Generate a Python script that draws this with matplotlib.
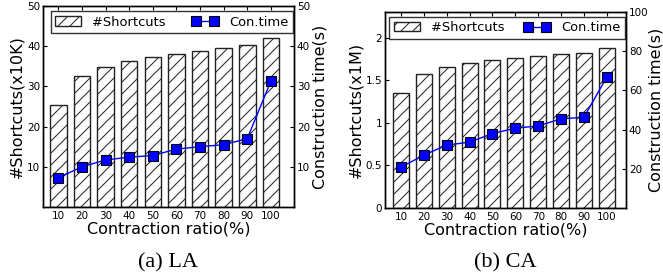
import matplotlib
matplotlib.use("Agg")
import matplotlib.pyplot as plt
import numpy as np

ratios = ["10", "20", "30", "40", "50", "60", "70", "80", "90", "100"]

la_shortcuts = [25.3, 32.5, 34.9, 36.4, 37.3, 38.1, 38.8, 39.5, 40.2, 42.1]
la_time = [7.3, 10.0, 11.7, 12.4, 12.8, 14.4, 15.0, 15.5, 17.0, 31.3]

ca_shortcuts = [1.355, 1.573, 1.654, 1.70, 1.732, 1.76, 1.783, 1.806, 1.817, 1.872]
ca_time = [20.8, 27.0, 32.1, 33.6, 38.0, 40.7, 41.9, 45.5, 46.3, 66.8]

W, H = 663, 279
DPI = 72
S = 100 / DPI  # scale so that sizes match a 100-dpi design
fig = plt.figure(figsize=(W / DPI, H / DPI), dpi=DPI)

TICK_FS = 7.5 * S
LABEL_FS = 11.5 * S
LEG_FS = 9.4 * S


def panel(rect, bars, line, ylim_l, yticks_l, yticklabels_l, ylim_r, yticks_r,
          ylabel_l, xlim, caption, cap_y, rlabelpad, colsp):
    ax = fig.add_axes(rect)
    x = np.arange(len(ratios))
    b = ax.bar(x, bars, width=0.7, color="white", edgecolor="#222222",
               hatch="//", linewidth=1.0 * S, label="#Shortcuts", zorder=2)
    ax.set_xlim(*xlim)
    ax.set_ylim(*ylim_l)
    ax.set_xticks(x)
    ax.set_xticklabels(ratios, fontsize=TICK_FS)
    ax.set_yticks(yticks_l)
    ax.set_yticklabels(yticklabels_l, fontsize=TICK_FS)
    ax.tick_params(axis="x", direction="in", top=True, bottom=True,
                   length=3 * S, width=0.8 * S, pad=3 * S)
    ax.tick_params(axis="y", direction="in", left=True, right=False,
                   length=3 * S, width=0.8 * S, pad=2 * S)
    ax.set_xlabel("Contraction ratio(%)", fontsize=LABEL_FS, labelpad=0)
    ax.set_ylabel(ylabel_l, fontsize=LABEL_FS, labelpad=2 * S)

    ax2 = ax.twinx()
    l, = ax2.plot(x, line, color="#0000ff", marker="s", markersize=7 * S,
                  markerfacecolor="#0000ff", markeredgecolor="#000000",
                  markeredgewidth=0.8 * S, linewidth=1.0 * S, label="Con.time")
    ax2.set_ylim(*ylim_r)
    ax2.set_yticks(yticks_r)
    ax2.set_yticklabels([str(v) for v in yticks_r], fontsize=TICK_FS)
    ax2.tick_params(axis="y", direction="in", right=True,
                    length=3 * S, width=0.8 * S, pad=2 * S)
    ax2.set_ylabel("Construction time(s)", fontsize=LABEL_FS, labelpad=rlabelpad * S)
    for sp in list(ax.spines.values()) + list(ax2.spines.values()):
        sp.set_linewidth(1.0 * S)

    leg = ax2.legend([b, l], ["#Shortcuts", "Con.time"], ncol=2,
                     loc="upper right", bbox_to_anchor=(0.997, 0.975),
                     fontsize=LEG_FS, frameon=True, fancybox=False,
                     numpoints=2, handlelength=2.0, columnspacing=colsp,
                     borderpad=0.35, handletextpad=0.85, borderaxespad=0.0)
    leg.get_frame().set_edgecolor("black")
    leg.get_frame().set_linewidth(1.0 * S)

    cx = rect[0] + rect[2] / 2
    fig.text(cx, cap_y, caption, ha="center", va="center",
             fontsize=16 * S, family="Liberation Serif")


panel([43 / W, 72 / H, 251 / W, 201 / H], la_shortcuts, la_time,
      (0, 50), [10, 20, 30, 40, 50], ["10", "20", "30", "40", "50"],
      (0, 50), [10, 20, 30, 40, 50],
      "#Shortcuts(x10K)", (-0.65, 9.98), "(a) LA", 1 - 263 / H, 2, 2.0)

panel([385 / W, 71 / H, 241 / W, 196 / H], ca_shortcuts, ca_time,
      (0, 2.3), [0, 0.5, 1, 1.5, 2], ["0", "0.5", "1", "1.5", "2"],
      (0, 99), [20, 40, 60, 80, 100],
      "#Shortcuts(x1M)", (-0.7, 9.84), "(b) CA", 1 - 263 / H, 0, 1.5)

fig.savefig("out.png", dpi=DPI)
